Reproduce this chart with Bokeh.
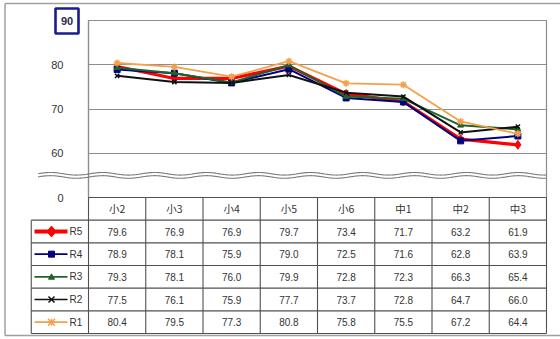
import numpy as np
from bokeh.plotting import figure
from bokeh.models import Range1d, FixedTicker
from bokeh.core.properties import value
from bokeh.embed import file_html
from bokeh.resources import INLINE

# ---- data -------------------------------------------------------------
grades = ["小2", "小3", "小4", "小5", "小6", "中1", "中2", "中3"]
series_names = ["R5", "R4", "R3", "R2", "R1"]
r5 = [79.6, 76.9, 76.9, 79.7, 73.4, 71.7, 63.2, 61.9]
r4 = [78.9, 78.1, 75.9, 79.0, 72.5, 71.6, 62.8, 63.9]
r3 = [79.3, 78.1, 76.0, 79.9, 72.8, 72.3, 66.3, 65.4]
r2 = [77.5, 76.1, 75.9, 77.7, 73.7, 72.8, 64.7, 66.0]
r1 = [80.4, 79.5, 77.3, 80.8, 75.8, 75.5, 67.2, 64.4]
y_ticks = [50, 60, 70, 80, 90]
y_tick_labels = {50: "0", 60: "60", 70: "70", 80: "80", 90: ""}
top_label = "90"

series_values = {"R5": r5, "R4": r4, "R3": r3, "R2": r2, "R1": r1}

# ---- styles -----------------------------------------------------------
styles = {
    "R5": dict(color="#ff0000", width=3.2, marker="diamond", size=9, mlw=1.0, key=9),
    "R4": dict(color="#000080", width=2.0, marker="square", size=6, mlw=1.0, key=6),
    "R3": dict(color="#1f6428", width=2.0, marker="triangle", size=6, mlw=1.0, key=6),
    "R2": dict(color="#111111", width=2.0, marker="x", size=6, mlw=1.5, key=6),
    "R1": dict(color="#f5a04a", width=1.8, marker="asterisk", size=7, mlw=1.5, key=7),
}
TXT = "#333333"
GRID = "#8c8c8c"
TABLE_LINE = "#505050"
FONT = "Liberation Sans"
CJK = "Noto Sans CJK JP"

W, H = 560, 339
LEFT, RIGHT, TOP, BOTTOM = 88, 14, 20, 142
frame_w = W - LEFT - RIGHT
frame_h = H - TOP - BOTTOM
row_h = 136 / 6.0
n_cols = len(grades)
n_rows = len(series_names)
col_w = frame_w / n_cols
px_per_unit = frame_h / 40.0

# one x unit per grade column; each grade sits in the middle of its column
xs = [i + 0.5 for i in range(n_cols)]

p = figure(width=W, height=H, output_backend="svg", toolbar_location=None,
           x_range=Range1d(0, n_cols), y_range=Range1d(50, 90),
           x_axis_location=None, min_border_left=LEFT, min_border_right=RIGHT,
           min_border_top=TOP, min_border_bottom=BOTTOM)
# table rows counted downward from the frame bottom
p.extra_y_ranges = {"ty": Range1d(0, -frame_h / row_h)}

p.background_fill_color = "white"
p.border_fill_color = "white"
p.outline_line_color = GRID
p.outline_line_width = 1.2
p.xgrid.visible = False
p.ygrid.ticker = FixedTicker(ticks=[60, 70, 80])
p.ygrid.grid_line_color = GRID
p.ygrid.grid_line_width = 1.2

ax = p.yaxis[0]
ax.ticker = FixedTicker(ticks=y_ticks)
ax.major_label_overrides = y_tick_labels
ax.axis_line_color = GRID
ax.axis_line_width = 1.2
ax.major_tick_line_color = None
ax.minor_tick_line_color = None
ax.major_label_standoff = 19
ax.major_label_text_font = FONT
ax.major_label_text_font_size = "11px"
ax.major_label_text_color = TXT

# ---- series lines ----------------------------------------------------
for name in series_names:
    st = styles[name]
    vals = series_values[name]
    p.line(xs, vals, line_color=st["color"], line_width=st["width"])
    p.scatter(xs, vals, marker=st["marker"], size=st["size"],
              fill_color=st["color"], line_color=st["color"], line_width=st["mlw"])

# ---- axis break marks -------------------------------------------------
bx = np.linspace(-0.88, n_cols, 500)
bpx = LEFT + bx * col_w
wave = (1.3 / px_per_unit) * np.sin(2 * np.pi * (bpx - 37) / 52.0)
for off in (0.36, -0.36):
    p.line(bx, 55.0 + off + wave, line_color="#7a7a7a",
           line_width=1.1, level="overlay")

# ---- top tick label in a box ----------------------------------------
bx0, bx1 = (55 - LEFT) / col_w, (78 - LEFT) / col_w
p.quad(left=[bx0], right=[bx1], bottom=[90 - 13 / px_per_unit], top=[90 + 12 / px_per_unit],
       fill_color="white", line_color="#1c1c8c", line_width=2.6, level="overlay")
p.text(x=[(bx0 + bx1) / 2], y=[90], text=[top_label],
       text_align="center", text_baseline="middle", text_font=value(FONT),
       text_font_size="11px", text_font_style="bold", text_color="#2a2a55",
       level="overlay")

# ---- data table -------------------------------------------------------
hx0, hx1, hy0, hy1 = [0], [n_cols], [0], [0]
for r in range(1, n_rows + 2):
    hx0.append(-1); hx1.append(n_cols); hy0.append(r); hy1.append(r)
vx0, vx1, vy0, vy1 = [-1], [-1], [1], [n_rows + 1]
for c in range(0, n_cols + 1):
    vx0.append(c); vx1.append(c); vy0.append(0); vy1.append(n_rows + 1)
p.segment(x0=hx0 + vx0, x1=hx1 + vx1, y0=hy0 + vy0, y1=hy1 + vy1,
          y_range_name="ty", line_color=TABLE_LINE, line_width=1.1, level="overlay")

# header labels
p.text(x=xs, y=[0.5] * n_cols, text=grades, y_range_name="ty",
       text_align="center", text_baseline="middle", text_font=value(CJK),
       text_font_size="10.5px", text_color=TXT, level="overlay")


def key_marker(kind, cx, cy, size, color, lw):
    """Legend-key marker drawn from pixel offsets (the key column lies left of the frame)."""
    h = size / 2.0
    ux = 1.0 / col_w      # x data units per pixel
    uy = -1.0 / row_h     # table row units per pixel (rows grow downward)
    if kind == "diamond":
        pts = [(0, h * 1.2), (h, 0), (0, -h * 1.2), (-h, 0)]
    elif kind == "square":
        pts = [(-h, -h), (h, -h), (h, h), (-h, h)]
    elif kind == "triangle":
        pts = [(0, h), (h, -h * 0.8), (-h, -h * 0.8)]
    else:
        pts = None
    if pts is not None:
        p.patch([cx + a * ux for a, b in pts], [cy + b * uy for a, b in pts],
                y_range_name="ty", fill_color=color, line_color=color,
                line_width=1, level="overlay")
        return
    segs = [((-h, -h), (h, h)), ((-h, h), (h, -h))]
    if kind == "asterisk":
        segs += [((-h, 0), (h, 0)), ((0, -h), (0, h))]
    p.segment(x0=[cx + s[0][0] * ux for s in segs], y0=[cy + s[0][1] * uy for s in segs],
              x1=[cx + s[1][0] * ux for s in segs], y1=[cy + s[1][1] * uy for s in segs],
              y_range_name="ty", line_color=color, line_width=lw, level="overlay")


lx0, lx1, lm = (34 - LEFT) / col_w, (67 - LEFT) / col_w, (51 - LEFT) / col_w
for i, name in enumerate(series_names):
    vals = series_values[name]
    st = styles[name]
    ry = i + 1.5
    p.text(x=xs, y=[ry] * n_cols, text=[f"{v:.1f}" for v in vals],
           y_range_name="ty", text_align="center", text_baseline="middle",
           text_font=value(FONT), text_font_size="10px", text_color=TXT,
           level="overlay")
    # legend key
    p.segment(x0=[lx0], x1=[lx1], y0=[ry], y1=[ry], y_range_name="ty",
              line_color=st["color"], line_width=(4 if name == "R5" else 1.6),
              level="overlay")
    key_marker(st["marker"], lm, ry, st["key"], st["color"], st["mlw"])
    p.text(x=[(69 - LEFT) / col_w], y=[ry], text=[name], y_range_name="ty",
           text_align="left", text_baseline="middle", text_font=value(FONT),
           text_font_size="10px", text_color=TXT, level="overlay")

# ---- outer chart border (left, top, bottom) -------------------------
ox0 = (4.5 - LEFT) / col_w
ox1 = (W - LEFT) / col_w
oy_top = (3 - (TOP + frame_h)) / row_h
oy_bot = (335 - (TOP + frame_h)) / row_h
p.segment(x0=[ox0, ox0, ox0], x1=[ox0, ox1, ox1], y0=[oy_top, oy_top, oy_bot],
          y1=[oy_bot, oy_top, oy_bot], y_range_name="ty",
          line_color="#a0a0a0", line_width=1.5, level="overlay")

open("out.html", "w").write(file_html(p, INLINE))
